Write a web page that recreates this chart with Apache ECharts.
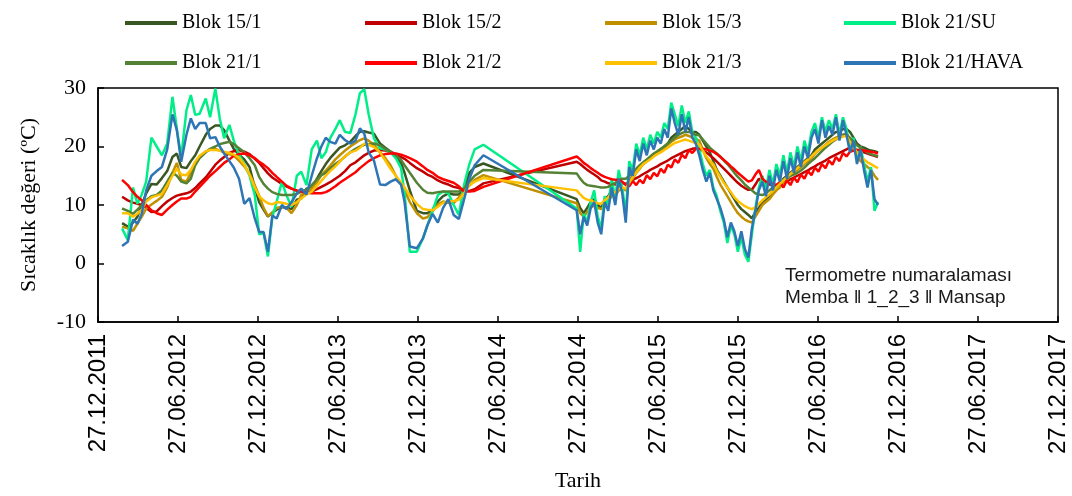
<!DOCTYPE html>
<html>
<head>
<meta charset="utf-8">
<title>Sıcaklık değeri</title>
<script src="https://cdn.jsdelivr.net/npm/echarts@6/dist/echarts.min.js"></script>
<style>
html, body { margin: 0; padding: 0; background: #fff; }
#chart { width: 1072px; height: 496px; }
</style>
</head>
<body>
<div id="chart"></div>
<script>
// gun: 27.12.2011'den itibaren gecen gun sayisi
var days = [
  55, 68, 80, 90, 100, 110, 122, 134, 146, 158, 170, 180, 190, 202, 212,
  222, 232, 246, 256, 268, 278, 288, 300, 310, 322, 334, 346, 358, 368, 378,
  388, 398, 408, 420, 430, 442, 454, 464, 476, 488, 500, 510, 520, 530, 542,
  552, 564, 576, 588, 598, 608, 618, 630, 644, 656, 668, 680, 692, 700, 712,
  728, 742, 752, 764, 776, 788, 800, 812, 824, 836, 848, 860, 880,
  1093, 1101, 1109, 1117, 1125, 1133, 1141, 1149, 1157, 1165, 1173, 1181, 1189, 1197, 1205,
  1213, 1221, 1229, 1237, 1245, 1253, 1261, 1269, 1277, 1285, 1293, 1301, 1309, 1317, 1325,
  1333, 1341, 1349, 1357, 1365, 1373, 1381, 1389, 1397, 1405, 1413, 1421, 1429, 1437, 1445,
  1453, 1461, 1469, 1477, 1485, 1493, 1501, 1509, 1517, 1525, 1533, 1541, 1549, 1557, 1565,
  1573, 1581, 1589, 1597, 1605, 1613, 1621, 1629, 1637, 1645, 1653, 1661, 1669, 1677, 1685,
  1693, 1701, 1709, 1717, 1725, 1733, 1741, 1749, 1757, 1765, 1773, 1781
]

var tickLabels = ['27.12.2011', '27.06.2012', '27.12.2012', '27.06.2013', '27.12.2013', '27.06.2014',
  '27.12.2014', '27.06.2015', '27.12.2015', '27.06.2016', '27.12.2016', '27.06.2017', '27.12.2017']

var b15_1 = [
  6.9, 6.3, 7.0, 8.0, 10.0, 12.0, 13.6, 13.5, 14.6, 15.8, 18.2, 18.8, 16.5, 16.3, 17.5,
  18.5, 20.0, 22.0, 23.0, 23.6, 23.6, 22.8, 21.0, 19.6, 18.6, 17.8, 16.5, 13.0, 10.5, 9.2,
  8.0, 8.7, 9.2, 9.6, 9.6, 9.3, 10.9, 11.1, 12.8, 12.8, 14.5, 15.8, 17.0, 18.0, 19.0,
  19.8, 20.2, 20.8, 21.8, 22.5, 22.6, 22.4, 22.2, 20.5, 19.8, 19.1, 18.2, 17.2, 15.5, 12.5,
  9.0, 8.6, 8.6, 9.2, 10.6, 11.5, 12.0, 11.8, 11.8, 12.8, 15.5, 16.5, 17.1,
  11.0, 9.5, 8.6, 9.5, 10.5, 11.0, 10.0, 9.5, 11.0, 11.5, 12.5, 12.0, 13.0, 13.0, 12.5,
  14.0, 15.0, 16.0, 16.5, 17.0, 17.5, 18.0, 18.5, 19.0, 19.5, 20.0, 20.5, 21.5, 22.0, 22.5,
  23.0, 23.5, 23.0, 22.5, 22.5, 22.0, 21.0, 20.0, 19.0, 17.5, 16.0, 15.0, 14.0, 13.0, 12.0,
  11.0, 10.0, 9.3, 8.8, 8.3, 7.7, 8.8, 9.5, 10.5, 11.0, 11.5, 12.5, 13.0, 13.5, 14.5,
  15.0, 15.5, 16.0, 16.5, 17.0, 17.5, 18.0, 18.5, 19.5, 20.0, 20.5, 21.0, 21.5, 22.0, 22.5,
  22.5, 23.0, 23.0, 22.5, 21.5, 20.5, 20.0, 19.8, 19.5, 19.3, 19.2, 19.0
]

var b15_2 = [
  11.4, 10.8, 10.4, 10.2, 10.0, 9.5, 8.8, 8.9, 9.8, 10.6, 11.2, 11.6, 11.8, 12.0, 12.3,
  12.9, 13.7, 14.7, 15.7, 16.9, 17.6, 18.2, 18.9, 19.2, 19.4, 19.1, 18.7, 17.9, 17.2, 16.3,
  15.4, 14.7, 14.2, 13.6, 13.2, 12.8, 12.5, 12.4, 12.3, 12.3, 12.7, 13.1, 13.5, 13.9, 14.5,
  15.0, 15.8, 16.8, 17.3, 17.9, 18.5, 18.9, 19.3, 19.4, 19.3, 19.1, 18.7, 18.2, 17.9, 17.2,
  16.3, 15.7, 15.2, 14.8, 14.2, 13.8, 13.5, 13.1, 12.9, 12.5, 12.4, 12.7, 13.7,
  17.4, 17.0, 16.5, 16.0, 15.6, 15.2, 14.8, 14.2, 14.0, 13.7, 13.6, 13.5, 13.6, 13.8, 13.6,
  14.0, 14.3, 14.6, 14.9, 15.3, 15.6, 16.0, 16.3, 16.6, 17.0, 17.3, 17.6, 18.0, 18.3, 18.6,
  18.9, 19.2, 19.4, 19.6, 19.7, 19.6, 19.3, 19.0, 18.5, 18.0, 17.4, 16.8, 16.2, 15.6, 15.0,
  14.4, 13.8, 13.3, 12.9, 12.6, 12.6, 13.5, 14.5, 13.8, 13.6, 13.5, 13.4, 13.4, 13.5, 13.8,
  14.1, 14.4, 14.7, 15.0, 15.3, 15.6, 15.9, 16.3, 16.6, 17.0, 17.3, 17.6, 18.0, 18.3, 18.6,
  18.9, 19.2, 19.5, 19.8, 19.6, 19.4, 19.2, 19.0, 18.8, 18.6, 18.4, 18.2
]

var b15_3 = [
  6.3, 6.0, 5.6, 6.8, 8.0, 9.4, 10.1, 10.7, 11.4, 13.0, 15.5, 17.2, 14.3, 14.0, 15.5,
  17.1, 18.1, 19.1, 19.5, 19.6, 19.3, 19.0, 18.7, 18.4, 17.6, 16.6, 15.3, 13.4, 11.6, 9.5,
  8.1, 8.7, 9.5, 9.7, 9.5, 8.6, 10.0, 11.7, 12.3, 12.8, 13.9, 15.1, 15.9, 16.7, 17.8,
  18.5, 19.3, 20.0, 20.6, 21.1, 21.4, 21.0, 20.3, 19.0, 18.0, 16.8, 15.0, 13.5, 12.5, 10.5,
  8.6, 7.7, 7.9, 8.9, 10.1, 10.6, 10.4, 10.3, 11.3, 12.4, 13.3, 14.3, 15.1,
  10.3, 8.6, 8.0, 8.8, 9.5, 10.0, 9.5, 9.3, 10.0, 10.8, 11.5, 11.5, 12.5, 12.8, 12.5,
  13.5, 14.5, 15.5, 16.2, 17.0, 17.5, 18.0, 18.5, 19.0, 19.3, 19.8, 20.3, 20.8, 21.2, 21.5,
  21.7, 22.0, 21.8, 21.5, 21.3, 21.0, 19.5, 18.0, 17.0, 16.2, 14.8, 13.5, 12.5, 11.5, 10.5,
  9.5, 8.6, 8.0, 7.5, 7.2, 7.0, 8.0, 9.0, 10.0, 10.5, 11.0, 11.8, 12.5, 13.0, 13.8,
  14.3, 15.0, 15.5, 16.0, 16.5, 17.0, 17.5, 18.0, 18.8, 19.3, 19.8, 20.3, 20.8, 21.2, 21.5,
  21.8, 22.0, 22.2, 21.0, 19.5, 18.5, 17.5, 17.0, 16.5, 16.0, 15.0, 14.3
]

var b21_su = [
  6.0, 4.0, 13.0, 10.2, 11.8, 14.0, 21.5, 20.0, 18.5, 20.5, 28.5, 23.0, 18.2, 26.2, 28.8,
  25.4, 25.6, 28.2, 25.0, 29.9, 24.8, 21.4, 23.7, 21.0, 18.6, 17.0, 15.0, 11.7, 5.0, 5.2,
  1.2, 7.9, 10.6, 14.0, 11.7, 9.7, 15.0, 15.7, 13.4, 19.5, 21.0, 18.0, 19.0, 21.4, 23.0,
  24.5, 22.5, 22.3, 25.5, 29.1, 29.8, 25.5, 21.4, 19.7, 19.5, 19.0, 18.0, 16.3, 12.0, 2.0,
  2.0, 4.3, 6.5, 9.0, 11.7, 12.3, 12.0, 10.0, 8.3, 13.5, 17.0, 19.5, 20.3,
  9.4, 2.0, 8.5, 7.0, 10.5, 12.5, 8.0, 6.0, 11.5, 10.0, 14.5, 11.0, 16.0, 13.0, 8.5,
  17.5, 16.0, 20.5, 18.5, 21.5, 19.5, 22.0, 20.5, 22.5, 21.5, 24.0, 23.0, 27.5, 25.5, 23.5,
  27.0, 24.0, 26.0, 22.5, 21.5, 19.5, 17.0, 15.0, 16.0, 13.0, 11.5, 9.0, 7.0, 3.5, 6.5,
  5.0, 2.0, 4.5, 1.5, 0.3, 5.0, 9.5, 13.0, 15.0, 12.5, 16.0, 13.5, 17.0, 15.0, 18.5,
  15.5, 19.0, 16.5, 20.0, 17.5, 21.0, 19.0, 22.5, 24.0, 21.5, 25.0, 22.5, 24.5, 23.0, 25.5,
  22.0, 25.0, 23.0, 20.0, 21.5, 18.0, 20.0, 17.0, 14.0, 16.5, 9.0, 10.5
]

var b21_1 = [
  9.4, 9.0, 8.5, 9.2, 10.0, 10.8, 11.5, 11.7, 12.5, 14.0, 15.5, 15.0, 14.0, 13.7, 14.5,
  16.8, 18.0, 19.0, 19.6, 20.0, 20.4, 20.6, 20.8, 20.4, 19.7, 19.0, 18.0, 16.8, 14.8, 13.6,
  12.8, 12.2, 11.9, 11.7, 11.7, 11.7, 11.9, 12.3, 12.6, 13.4, 14.4, 15.1, 15.5, 16.2, 17.0,
  17.5, 18.3, 19.0, 19.6, 20.0, 20.3, 20.4, 20.5, 20.2, 19.6, 19.1, 18.5, 17.7, 16.8, 15.5,
  13.8, 12.6, 12.1, 12.0, 12.2, 12.3, 12.3, 12.3, 12.3, 12.8, 14.0, 15.0, 16.0,
  15.4, 14.5, 13.8, 13.4, 13.3, 13.2, 13.1, 13.0, 13.0, 13.1, 13.5, 13.8, 14.2, 14.5, 14.5,
  15.0, 15.5, 16.2, 16.8, 17.3, 17.8, 18.3, 18.8, 19.2, 19.6, 20.0, 20.5, 21.0, 21.5, 22.0,
  22.3, 22.5, 22.5, 22.3, 22.0, 21.9, 21.2, 20.5, 19.8, 19.3, 18.8, 18.3, 17.6, 17.0, 16.3,
  15.5, 14.8, 14.2, 13.5, 13.0, 12.5, 12.0, 11.8, 11.7, 12.0, 12.5, 13.0, 13.4, 13.8, 14.2,
  14.6, 15.0, 15.2, 15.5, 15.9, 16.4, 17.0, 17.5, 18.0, 18.6, 19.2, 19.8, 20.3, 20.8, 21.2,
  21.6, 22.0, 22.0, 21.5, 20.8, 20.2, 19.8, 19.4, 19.0, 18.7, 18.5, 18.3
]

var b21_2 = [
  14.3, 13.4, 12.2, 11.4, 10.8, 10.0, 9.1, 8.6, 8.3, 9.2, 10.0, 10.6, 11.1, 11.1, 11.4,
  12.3, 13.1, 14.2, 15.0, 15.8, 16.5, 17.2, 17.8, 18.4, 18.7, 18.8, 18.5, 18.0, 17.4, 16.9,
  16.3, 15.5, 14.8, 14.0, 13.3, 12.8, 12.4, 12.3, 12.1, 12.0, 12.0, 12.0, 12.2, 12.6, 13.2,
  13.8, 14.4, 15.0, 15.6, 16.3, 16.9, 17.5, 18.0, 18.5, 18.7, 18.8, 18.8, 18.6, 18.4, 18.0,
  17.4, 16.6, 16.0, 15.5, 14.8, 14.4, 14.1, 13.8, 13.2, 12.3, 12.3, 12.4, 13.1,
  18.3, 17.8, 17.2, 16.8, 16.3, 15.9, 15.5, 15.1, 14.8, 14.6, 14.4, 14.3, 14.3, 14.0, 13.4,
  13.2, 14.1, 13.4, 14.3, 13.7, 15.1, 14.4, 15.5, 14.9, 16.2, 15.5, 16.9, 16.4, 17.8, 17.2,
  18.6, 18.0, 19.4, 18.9, 19.6, 19.6, 19.6, 19.5, 19.3, 19.1, 18.7, 18.2, 17.7, 17.2, 16.6,
  16.1, 15.5, 15.0, 14.5, 14.0, 14.2, 15.2, 16.0, 14.5, 14.0, 13.8, 13.6, 13.4, 13.9, 13.0,
  14.2, 13.4, 14.7, 13.9, 15.2, 14.5, 15.8, 15.1, 16.4, 15.7, 17.0, 16.3, 17.6, 16.9, 18.2,
  17.5, 18.9, 18.3, 19.1, 19.3, 19.4, 19.4, 19.3, 19.2, 19.1, 19.0, 18.8
]

var b21_3 = [
  8.6, 8.6, 8.0, 8.5, 9.2, 10.6, 11.3, 11.6, 11.9, 13.4, 15.0, 16.2, 15.2, 15.1, 16.0,
  17.4, 18.4, 19.2, 19.4, 19.4, 19.3, 19.1, 18.9, 18.6, 18.1, 16.9, 15.2, 13.0, 11.5, 10.8,
  10.3, 10.1, 10.5, 10.4, 10.2, 10.0, 10.5, 11.1, 11.8, 12.3, 13.3, 14.1, 15.0, 15.8, 16.6,
  17.4, 18.3, 19.0, 19.3, 19.8, 20.5, 20.3, 19.9, 19.0, 17.6, 16.2, 15.0, 13.8, 13.0, 11.6,
  10.2, 9.3, 9.2, 9.1, 9.7, 10.4, 10.6, 10.7, 10.9, 12.0, 13.4, 14.0, 14.6,
  12.5, 11.8, 11.2, 10.9, 10.8, 10.5, 10.3, 10.2, 10.8, 11.3, 12.0, 12.2, 12.8, 13.0, 12.8,
  13.8, 14.8, 15.6, 16.4, 17.0, 17.4, 17.8, 18.3, 18.7, 19.0, 19.4, 19.8, 20.2, 20.6, 20.8,
  21.0, 21.2, 21.0, 20.8, 20.6, 20.3, 19.3, 18.3, 17.6, 17.0, 15.8, 14.8, 13.8, 13.0, 12.2,
  11.3, 10.7, 10.2, 9.8, 9.5, 9.3, 9.6, 10.2, 10.8, 11.3, 11.8, 12.4, 13.0, 13.6, 14.2,
  14.8, 15.3, 15.8, 16.3, 16.8, 17.3, 17.8, 18.3, 18.9, 19.4, 19.8, 20.2, 20.6, 21.0, 21.3,
  21.5, 21.7, 21.8, 20.8, 19.8, 19.0, 18.2, 17.8, 17.3, 17.0, 16.6, 16.3
]

var b21_hava = [
  3.0, 3.7, 7.5, 6.8, 8.5, 12.5, 15.0, 15.8, 16.5, 19.5, 25.5, 22.8, 17.4, 22.0, 24.8,
  23.0, 24.0, 24.0, 21.4, 21.6, 20.0, 18.8, 17.5, 16.4, 14.5, 10.2, 11.2, 7.7, 5.4, 5.4,
  2.0, 8.2, 7.7, 10.0, 9.3, 10.5, 12.0, 12.8, 11.8, 15.0, 18.0, 20.0, 21.5, 20.8, 20.5,
  22.0, 21.1, 20.5, 21.0, 23.1, 22.2, 19.0, 17.6, 13.5, 13.4, 14.0, 14.4, 13.5, 10.5, 2.9,
  2.6, 4.3, 6.5, 8.5, 7.0, 9.5, 11.0, 8.3, 7.6, 11.0, 14.5, 16.8, 18.5,
  9.1, 5.0, 8.0, 6.5, 9.5, 10.5, 7.0, 5.0, 10.5, 9.0, 13.0, 10.0, 14.5, 12.0, 7.0,
  16.5, 15.0, 19.5, 17.5, 20.5, 18.5, 21.0, 19.5, 21.5, 20.5, 23.0, 21.5, 26.5, 24.0, 22.0,
  25.5, 22.5, 25.0, 21.5, 20.5, 18.5, 16.0, 14.0, 15.5, 12.5, 11.0, 9.5, 7.5, 4.5, 7.0,
  5.5, 3.0, 5.5, 2.5, 1.0, 6.0, 9.0, 12.5, 14.0, 11.5, 15.0, 12.5, 16.0, 14.0, 17.5,
  14.5, 18.0, 15.5, 19.0, 16.5, 20.0, 18.0, 21.5, 23.0, 20.5, 24.5, 21.5, 23.5, 22.0, 25.0,
  21.0, 24.5, 22.0, 19.0, 21.0, 17.0, 19.5, 16.0, 13.0, 16.0, 11.0, 10.0
]

var names = ['Blok 15/1', 'Blok 15/2', 'Blok 15/3', 'Blok 21/SU', 'Blok 21/1', 'Blok 21/2', 'Blok 21/3', 'Blok 21/HAVA']
var values = [b15_1, b15_2, b15_3, b21_su, b21_1, b21_2, b21_3, b21_hava]
var colors = ['#385723', '#C00000', '#BF9000', '#00EE88', '#548235', '#FF0000', '#FFC000', '#2E75B6']

var totalDays = 2192
var step = totalDays / 12
var legendLeft = [120, 360, 600, 839]

var chart = echarts.init(document.getElementById('chart'))

var option = {
  animation: false,
  color: colors,
  grid: {
    left: 98,
    right: 14,
    top: 88,
    bottom: 174,
    show: true,
    borderColor: '#000',
    borderWidth: 1.5
  },
  legend: legendLeft.map(function (left, i) {
    return {
      left: left,
      top: 8,
      orient: 'vertical',
      itemGap: 20,
      itemWidth: 52,
      itemHeight: 4,
      icon: 'rect',
      data: [names[i], names[i + 4]],
      textStyle: { fontFamily: 'Liberation Serif', fontSize: 20, color: '#000' }
    }
  }),
  xAxis: {
    type: 'value',
    min: 0,
    max: totalDays,
    interval: step,
    name: 'Tarih',
    nameLocation: 'middle',
    nameGap: 148,
    nameTextStyle: { fontFamily: 'Liberation Serif', fontSize: 22, color: '#000' },
    axisLine: { show: true, onZero: false, lineStyle: { color: '#000', width: 1.5 } },
    axisTick: { show: true, inside: true, length: 6, lineStyle: { color: '#000', width: 1.5 } },
    splitLine: { show: false },
    axisLabel: {
      rotate: 90,
      margin: 12,
      color: '#000',
      fontFamily: 'Liberation Sans',
      fontSize: 24,
      formatter: function (v) {
        return tickLabels[Math.round(v / step)]
      }
    }
  },
  yAxis: {
    type: 'value',
    min: -10,
    max: 30,
    interval: 10,
    name: 'Sıcaklık değeri (ºC)',
    nameLocation: 'middle',
    nameGap: 58,
    nameTextStyle: { fontFamily: 'Liberation Serif', fontSize: 22, color: '#000' },
    axisLine: { show: true, lineStyle: { color: '#000', width: 1.5 } },
    axisTick: { show: true, inside: true, length: 6, lineStyle: { color: '#000', width: 1.5 } },
    splitLine: { show: false },
    axisLabel: { color: '#000', fontFamily: 'Liberation Serif', fontSize: 22, margin: 12 }
  },
  graphic: [
    {
      type: 'text',
      left: 785,
      top: 266,
      style: { text: 'Termometre numaralaması', font: '19px "Liberation Sans", "DejaVu Sans"', fill: '#1a1a1a' }
    },
    {
      type: 'text',
      left: 785,
      top: 288,
      style: { text: 'Memba ‖ 1_2_3 ‖ Mansap', font: '19px "Liberation Sans", "DejaVu Sans"', fill: '#1a1a1a' }
    }
  ],
  series: names.map(function (name, k) {
    return {
      name: name,
      type: 'line',
      symbol: 'none',
      showSymbol: false,
      lineStyle: { width: 2.5, color: colors[k] },
      itemStyle: { color: colors[k] },
      data: days.map(function (d, i) { return [d, values[k][i]] })
    }
  })
}

chart.setOption(option)
</script>
</body>
</html>
